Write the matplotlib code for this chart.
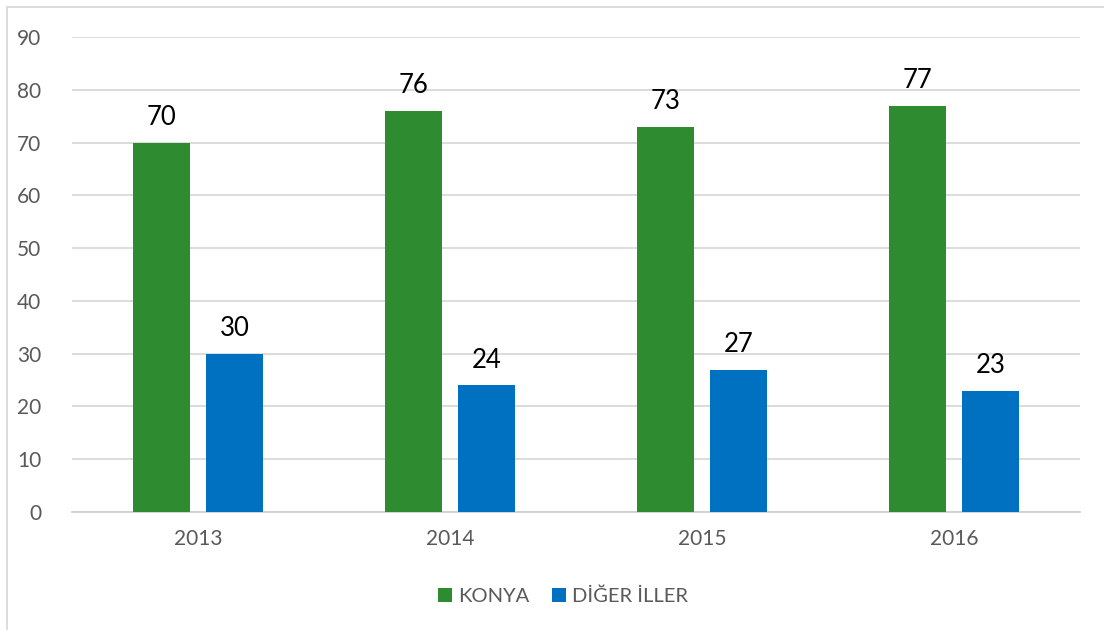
import matplotlib
matplotlib.use("Agg")
import matplotlib.pyplot as plt
import numpy as np
from matplotlib.patches import Rectangle

years = ["2013", "2014", "2015", "2016"]
konya = [70, 76, 73, 77]
diger = [30, 24, 27, 23]
series_names = ["KONYA", "DİĞER İLLER"]
yticks = [0, 10, 20, 30, 40, 50, 60, 70, 80, 90]

plt.rcParams['font.family'] = ['Lato', 'DejaVu Sans']

W, H = 1104, 630
fig = plt.figure(figsize=(W/100, H/100), dpi=100)
ax = fig.add_axes([72/W, 1-512/H, (1080-72)/W, (512-37)/H])

green = "#2E8B30"
blue = "#0070C0"
x = np.arange(len(years))
bw = 0.224
off = 0.145
b1 = ax.bar(x - off, konya, bw, color=green, label=series_names[0], zorder=3)
b2 = ax.bar(x + off, diger, bw, color=blue, label=series_names[1], zorder=3)

for bars in (b1, b2):
    for r in bars:
        ax.annotate(f"{int(r.get_height())}", (r.get_x() + r.get_width()/2, r.get_height()),
                    xytext=(0, 9), textcoords="offset points", ha="center", va="bottom",
                    fontsize=18.5, color="#000000")

ax.set_xlim(-0.5, len(years) - 0.5)
ax.set_ylim(0, 90)
ax.set_yticks(yticks)
ax.set_xticks(x)
ax.set_xticklabels(years)
ax.yaxis.grid(True, color="#D9D9D9", linewidth=1.3, zorder=0)
ax.set_axisbelow(True)
for s in ["top", "right", "left"]:
    ax.spines[s].set_visible(False)
ax.spines["bottom"].set_color("#D0D0D0")
ax.spines["bottom"].set_linewidth(1.3)
ax.tick_params(axis="both", length=0, labelsize=15, labelcolor="#595959")
ax.tick_params(axis="y", pad=22)
ax.tick_params(axis="x", pad=12)

leg = fig.legend(handles=[b1, b2], labels=series_names, loc="center",
                 bbox_to_anchor=(563/W, 1-596/H), ncol=2, frameon=False,
                 fontsize=14.5, handlelength=0.7, handleheight=0.7,
                 handletextpad=0.3, columnspacing=1.1)
for t in leg.get_texts():
    t.set_color("#595959")

fig.patches.append(Rectangle((7/W, -0.02), 1.05, 1 - 7/H + 0.02, transform=fig.transFigure,
                             fill=False, edgecolor="#D9D9D9", linewidth=1.3))

fig.savefig("out.png", dpi=100)
